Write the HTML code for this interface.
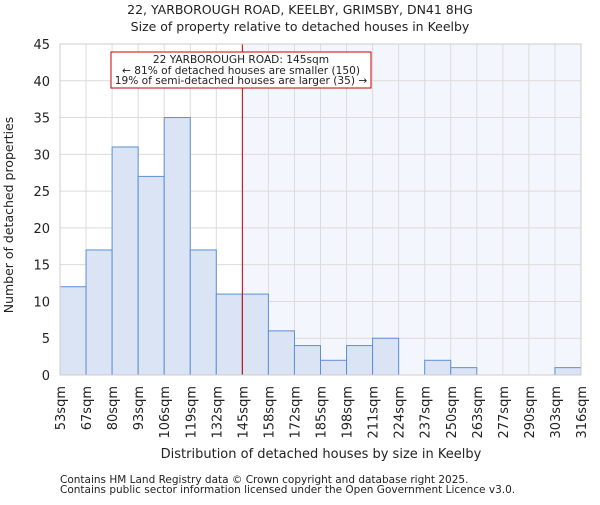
<!DOCTYPE html>
<html><head><meta charset="utf-8"><style>
body{margin:0;background:#fff;}
svg text{font-family:"DejaVu Sans","Liberation Sans",sans-serif;fill:#222;}
</style></head><body>
<svg id="c" width="600" height="500"></svg>
<script>
const binLabels=["53sqm","67sqm","80sqm","93sqm","106sqm","119sqm","132sqm","145sqm","158sqm","172sqm","185sqm","198sqm","211sqm","224sqm","237sqm","250sqm","263sqm","277sqm","290sqm","303sqm","316sqm"];
const counts=[12,17,31,27,35,17,11,11,6,4,2,4,5,0,2,1,0,0,0,1];
const yTicks=[0,5,10,15,20,25,30,35,40,45];
const markerBin=7;
const NS="http://www.w3.org/2000/svg";
const svg=document.getElementById('c');
const X0=60,X1=581,Y0=375,Y1=44,YMAX=45;
const bw=(X1-X0)/counts.length;
const xs=i=>X0+i*bw;
const ys=v=>Y0-(Y0-Y1)*v/YMAX;
function mk(t,a,txt){const e=document.createElementNS(NS,t);for(const k in a)e.setAttribute(k,a[k]);if(txt!==undefined)e.textContent=txt;svg.appendChild(e);return e;}
let e;
e=mk('rect',{x:xs(markerBin),y:Y1,width:X1-xs(markerBin),height:Y0-Y1,fill:'#f4f6fd'});


yTicks.forEach(t=>{
e=mk('line',{x1:X0,x2:X1,y1:ys(t),y2:ys(t),stroke:'#dcdcdc','stroke-width':1});


e=mk('text',{x:X0-10,y:ys(t)+5,'text-anchor':'end','font-size':13},t);


});
binLabels.forEach((l,i)=>{
e=mk('line',{x1:xs(i),x2:xs(i),y1:Y1,y2:Y0,stroke:'#dcdcdc','stroke-width':1});


e=mk('text',{x:0,y:0,'text-anchor':'end','font-size':13,transform:`translate(${xs(i)+5},386) rotate(-90)`},l);


});
counts.forEach((v,i)=>{
if(v<=0)return;
e=mk('rect',{x:xs(i),y:ys(v),width:bw,height:Y0-ys(v),fill:'#dae4f4',stroke:'#5b8fd6','stroke-width':1});


});
e=mk('line',{x1:xs(markerBin),x2:xs(markerBin),y1:Y1,y2:Y0,stroke:'#cc0000','stroke-width':1});


e=mk('rect',{x:X0,y:Y1,width:X1-X0,height:Y0-Y1,fill:'none',stroke:'#ccc'});


e=mk('rect',{x:111,y:52,width:260,height:36,fill:'#fff',stroke:'#cc0000','stroke-width':1});


[["22 YARBOROUGH ROAD: 145sqm",63],["← 81% of detached houses are smaller (150)",74],["19% of semi-detached houses are larger (35) →",84]].forEach(([t,y])=>{
e=mk('text',{x:241,y:y,'text-anchor':'middle','font-size':10.6},t);


});
e=mk('text',{x:300,y:14,'text-anchor':'middle','font-size':12.5},'22, YARBOROUGH ROAD, KEELBY, GRIMSBY, DN41 8HG');


e=mk('text',{x:300,y:31,'text-anchor':'middle','font-size':12.5},'Size of property relative to detached houses in Keelby');


e=mk('text',{x:321,y:458,'text-anchor':'middle','font-size':13},'Distribution of detached houses by size in Keelby');


e=mk('text',{x:0,y:0,'text-anchor':'middle','font-size':12.5,transform:'translate(13,215) rotate(-90)'},'Number of detached properties');


e=mk('text',{x:60,y:483,'font-size':10.5,fill:'#444'},'Contains HM Land Registry data © Crown copyright and database right 2025.');


e=mk('text',{x:60,y:493,'font-size':10.5,fill:'#444'},'Contains public sector information licensed under the Open Government Licence v3.0.');


</script>
</body></html>
